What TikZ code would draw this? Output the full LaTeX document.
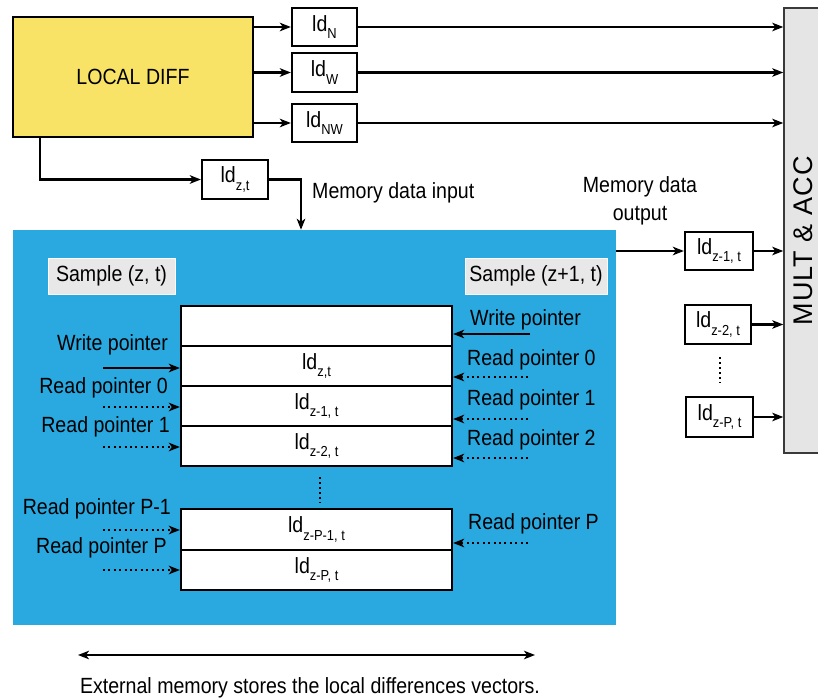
\documentclass[tikz,border=0pt]{standalone}
\usepackage{fontspec}
\setmainfont{Liberation Sans}[FakeStretch=0.89]
\newfontfamily\multfont{Liberation Sans}[LetterSpace=4]
\usetikzlibrary{arrows.meta}
\definecolor{diffyellow}{HTML}{F8E366}
\definecolor{memblue}{HTML}{29A9E0}
\definecolor{labelgray}{HTML}{E8E8E8}
\definecolor{accgray}{HTML}{E5E5E5}
\definecolor{accedge}{HTML}{3A3A3A}
% local-difference label with a lowered subscript
\newcommand\ldlab[1]{ld\raisebox{-0.33em}{\fontsize{14.5}{14.5}\selectfont #1}}
\begin{document}
\begin{tikzpicture}[x=1pt,y=-1pt,
  every node/.style={font=\fontsize{22}{26}\selectfont, inner sep=0pt},
  box/.style={draw, line width=2.3pt, fill=white, inner sep=0pt},
  tag/.style={fill=labelgray, draw=white, line width=0.8pt},
  tip/.style={-{Stealth[length=11pt,width=8.5pt,inset=3pt]}},
  arr/.style={line width=2.2pt, tip},
  dotarr/.style={arr, dash pattern=on 2pt off 3.4pt},
  dotline/.style={line width=2.2pt, dash pattern=on 2pt off 3pt},
]
\useasboundingbox (0,0) rectangle (818,700);

% memory background
\node[fill=memblue, minimum width=603pt, minimum height=395pt] (mem) at (314.5,427.5) {};

% local difference unit and its outputs
\node[box, fill=diffyellow, minimum width=240pt, minimum height=120pt] (ld) at (133,77) {LOCAL DIFF};
\node[box, minimum width=65pt, minimum height=38pt] (ldN) at (324.5,27) {\ldlab{N}};
\node[box, minimum width=65pt, minimum height=39pt] (ldW) at (324.5,72.5) {\ldlab{W}};
\node[box, minimum width=65pt, minimum height=38pt] (ldNW) at (324.5,123) {\ldlab{NW}};
\node[box, minimum width=66pt, minimum height=39pt] (ldzt) at (235,179.5) {\ldlab{z,t}};

% multiply-accumulate unit
\node[draw=accedge, fill=accgray, line width=1.5pt, minimum width=42pt, minimum height=445pt] (mult) at (805,230.5) {};
\node[rotate=90, font=\multfont\fontsize{27}{30}\selectfont] (multlab) at (803.5,241) {MULT \& ACC};

% memory output registers
\node[box, minimum width=68pt, minimum height=38pt] (o1) at (719,251) {\ldlab{z-1, t}};
\node[box, minimum width=66pt, minimum height=39pt] (o2) at (718,324.5) {\ldlab{z-2, t}};
\node[box, minimum width=67pt, minimum height=40pt] (o3) at (719.5,417) {\ldlab{z-P, t}};

% sample labels
\node[tag, minimum width=127pt, minimum height=36pt] (s1) at (111.5,276) {Sample (z, t)};
\node[tag, minimum width=142pt, minimum height=36pt] (s2) at (536,276) {Sample (z+1, t)};

% memory rows
\node[box, minimum width=271pt, minimum height=40pt] (r0) at (316.5,326) {};
\node[box, minimum width=271pt, minimum height=40pt] (r1) at (316.5,366) {\ldlab{z,t}};
\node[box, minimum width=271pt, minimum height=40pt] (r2) at (316.5,406) {\ldlab{z-1, t}};
\node[box, minimum width=271pt, minimum height=40pt] (r3) at (316.5,446) {\ldlab{z-2, t}};
\node[box, minimum width=271pt, minimum height=40.5pt] (r4) at (316.5,529.5) {\ldlab{z-P-1, t}};
\node[box, minimum width=271pt, minimum height=40pt] (r5) at (316.5,570) {\ldlab{z-P, t}};

% pointer labels, left side
\node[anchor=east] (lw) at (168,345) {Write pointer};
\node[anchor=east] (lr0) at (168,388) {Read pointer 0};
\node[anchor=east] (lr1) at (170,427) {Read pointer 1};
\node[anchor=east] (lrp1) at (171,509) {Read pointer P-1};
\node[anchor=east] (lrp) at (167,548) {Read pointer P};

% pointer labels, right side
\node[anchor=west] (rw) at (470,320) {Write pointer};
\node[anchor=west] (rr0) at (467,360) {Read pointer 0};
\node[anchor=west] (rr1) at (467,400) {Read pointer 1};
\node[anchor=west] (rr2) at (467,440) {Read pointer 2};
\node[anchor=west] (rrp) at (468,524) {Read pointer P};

% other texts
\node[anchor=west] (inlab) at (312,193) {Memory data input};
\node[align=center, font=\fontsize{22}{28}\selectfont] (outlab) at (640,201) {Memory data\\output};
\node (caption) at (310,688) {External memory stores the local differences vectors.};

% free ends of connectors
\coordinate (tapx) at (40,0);
\coordinate (inx) at (301,0);
\coordinate (lwt) at (103,368);
\coordinate (lr0t) at (103,407);
\coordinate (lr1t) at (103,447);
\coordinate (lrp1t) at (103,530);
\coordinate (lrpt) at (103,570);
\coordinate (rwt) at (530,334);
\coordinate (rr0t) at (528,377);
\coordinate (rr1t) at (528,419);
\coordinate (rr2t) at (528,458);
\coordinate (rrpt) at (528,543);
\coordinate (dmt) at (320,477);
\coordinate (dmb) at (320,503);
\coordinate (dot) at (720,357);
\coordinate (dob) at (720,383);
\coordinate (spa) at (78,655);
\coordinate (spb) at (535,655);

% local difference outputs
\draw[arr] (ld.east |- ldN) -- (ldN.west);
\draw[arr] (ld.east |- ldW) -- (ldW.west);
\draw[arr] (ld.east |- ldNW) -- (ldNW.west);
\draw[arr] (ldN.east) -- (mult.west |- ldN);
\draw[arr] (ldW.east) -- (mult.west |- ldW);
\draw[arr] (ldNW.east) -- (mult.west |- ldNW);

% memory write path
\draw[arr] (ld.south -| tapx) |- (ldzt.west);
\draw[arr] (ldzt.east) -| (mem.north -| inx);

% memory read path
\draw[arr] (mem.east |- o1) -- (o1.west);
\draw[arr] (o1.east) -- (mult.west |- o1);
\draw[arr] (o2.east) -- (mult.west |- o2);
\draw[arr] (o3.east) -- (mult.west |- o3);
\draw[dotline] (dot) -- (dob);

% left pointers
\draw[arr] (lwt) -- (lwt -| r1.west);
\draw[dotarr] (lr0t) -- (lr0t -| r2.west);
\draw[dotarr] (lr1t) -- (lr1t -| r3.west);
\draw[dotarr] (lrp1t) -- (lrp1t -| r4.west);
\draw[dotarr] (lrpt) -- (lrpt -| r5.west);

% right pointers
\draw[arr] (rwt) -- (rwt -| r0.east);
\draw[dotarr] (rr0t) -- (rr0t -| r1.east);
\draw[dotarr] (rr1t) -- (rr1t -| r2.east);
\draw[dotarr] (rr2t) -- (rr2t -| r3.east);
\draw[dotarr] (rrpt) -- (rrpt -| r4.east);

% gap between memory rows
\draw[dotline] (dmt) -- (dmb);

% memory span
\draw[line width=2.2pt, {Stealth[length=11pt,width=8.5pt,inset=3pt]}-{Stealth[length=11pt,width=8.5pt,inset=3pt]}] (spa) -- (spb);
\end{tikzpicture}
\end{document}
